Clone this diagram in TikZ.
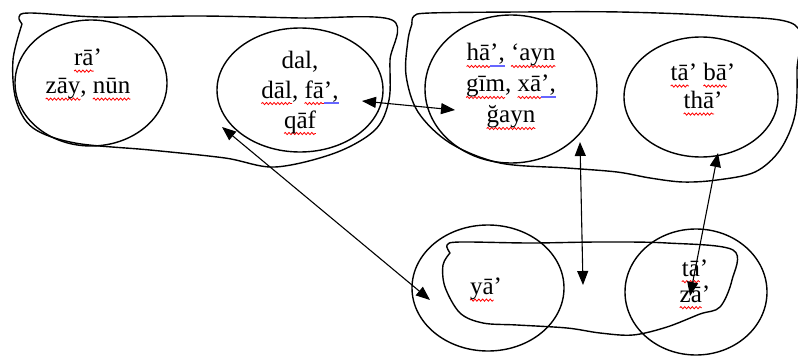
\documentclass[tikz,border=0pt]{standalone}
\usepackage{fontspec}
\setmainfont{Liberation Serif}
\usetikzlibrary{shapes.geometric,arrows.meta,decorations.pathmorphing}
% red wavy and blue straight underlines under words
\newdimen\ulw
\newcommand\sq[1]{\setbox0\hbox{#1}\ulw=\wd0\relax\leavevmode
  \rlap{\tikz[overlay,baseline=0pt]\draw[red, line width=0.8pt, decorate,
    decoration={snake, amplitude=1.1pt, segment length=3.8pt}] (0pt,-5.5pt) -- (\ulw,-5.5pt);}\box0\relax}
\newcommand\gr[1]{\setbox0\hbox{#1}\ulw=\wd0\relax\leavevmode
  \rlap{\tikz[overlay,baseline=0pt]\draw[blue!60, line width=1.6pt] (0pt,-5pt) -- (\ulw,-5pt);}\box0\relax}
\tikzset{
  group/.style={draw, ellipse, line width=1.4pt, inner sep=0pt},
  blob/.style={draw, line width=1.4pt, line join=round},
  label/.style={align=center, inner sep=0pt, font=\fontsize{25}{30}\selectfont},
  link/.style={line width=1.1pt, {Triangle[length=14pt,width=11pt]}-{Triangle[length=14pt,width=11pt]}}
}
\begin{document}
\begin{tikzpicture}[x=1pt,y=-1pt]
\useasboundingbox (0,0) rectangle (798,356);

% outer outlines
\draw[blob] plot[smooth, tension=0.55] coordinates {
  (22,24) (19,17) (30,13) (100,17) (200,16) (300,18) (392,20) (390,60)
  (389,100) (375,130) (335,153) (275,167) (225,158) (150,150) (75,143)
  (33,128) (16,100) (13,60) (22,24)};
\draw[blob] plot[smooth, tension=0.55] coordinates {
  (412,24) (414,16) (430,13) (520,12) (620,12) (720,16) (795,25) (797,70)
  (795,115) (780,150) (755,172) (717,180) (683,182) (650,178) (617,172)
  (567,168) (500,163) (450,143) (418,112) (406,75) (408,40) (412,24)};
\draw[blob] plot[smooth, tension=0.55] coordinates {
  (450,253) (447,245) (460,242) (530,243) (600,242) (667,243) (733,250)
  (732,280) (720,307) (700,314) (667,327) (633,335) (600,333) (567,328)
  (517,325) (483,323) (460,313) (445,287) (443,265) (450,253)};

% groups
\node[group, minimum width=152pt, minimum height=126pt] (e1) at (91,83) {};
\node[group, minimum width=166pt, minimum height=124pt] (e2) at (300,90) {};
\node[group, minimum width=172pt, minimum height=148pt] (e3) at (511,89) {};
\node[group, minimum width=154pt, minimum height=120pt] (e4) at (701,97) {};
\node[group, minimum width=152pt, minimum height=126pt] (e5) at (488,288) {};
\node[group, minimum width=142pt, minimum height=126pt] (e6) at (696,292) {};

% letter names
\node[label, font=\fontsize{25}{28}\selectfont] (t1) at (88,74) {\sq{rā}’\\\sq{zāy}, \sq{nūn}};
\node[label] (t2) at (300,92) {dal,\\\sq{dāl}, \sq{fā}\gr{’,}\\\sq{qāf}};
\node[label, font=\fontsize{25}{31}\selectfont] (t3) at (511,86) {\sq{hā}\gr{’,} \sq{‘ayn}\\\sq{gīm}, \sq{xā}\gr{’,}\\\sq{ğayn}};
\node[label, font=\fontsize{25}{28}\selectfont] (t4) at (703,86) {\sq{tā}’ \sq{bā}’\\\sq{thā}’};
\node[label] (t5) at (486,289) {\sq{yā}’};
\node[label, font=\fontsize{25}{26}\selectfont] (t6) at (695,281) {\sq{tā}’\\\sq{zā}’};

% connector ends
\coordinate (a1s) at (362,101);
\coordinate (a1e) at (455,110);
\coordinate (a2s) at (222,127);
\coordinate (a2e) at (430,300);
\coordinate (a3s) at (580,142);
\coordinate (a3e) at (583,285);
\coordinate (a4s) at (718,153);
\coordinate (a4e) at (690,296);

\draw[link] (a1s) -- (a1e);
\draw[link] (a2s) -- (a2e);
\draw[link] (a3s) -- (a3e);
\draw[link] (a4s) -- (a4e);
\end{tikzpicture}
\end{document}
